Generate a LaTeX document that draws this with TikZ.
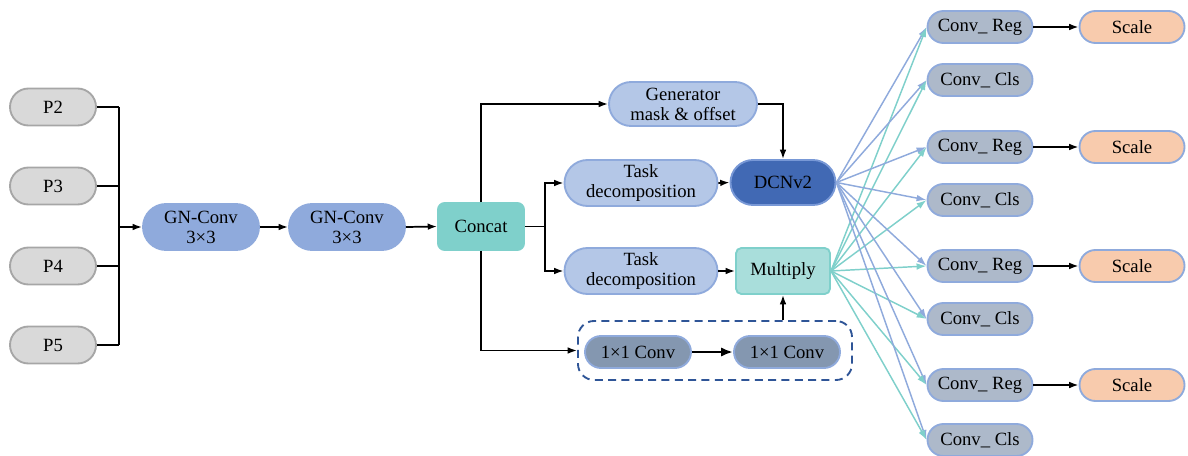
\documentclass[tikz,border=0pt]{standalone}
\usepackage{fontspec}
\setmainfont{Liberation Serif}
\usetikzlibrary{shapes.misc,arrows.meta,positioning,calc}

\definecolor{pfill}{HTML}{D9D9D9}
\definecolor{pline}{HTML}{A6A6A6}
\definecolor{gnblue}{HTML}{8FAADC}
\definecolor{teal1}{HTML}{7FD0CB}
\definecolor{lblue}{HTML}{B4C7E7}
\definecolor{dblue}{HTML}{4169B4}
\definecolor{dline}{HTML}{7898D6}
\definecolor{mulfill}{HTML}{A9DEDB}
\definecolor{slate}{HTML}{8497B0}
\definecolor{convfill}{HTML}{ADB9CA}
\definecolor{peach}{HTML}{F8CBAD}
\definecolor{navy}{HTML}{2F5597}

\tikzset{
  base/.style={font=\rmfamily\fontsize{14}{15}\selectfont, align=center, inner sep=0pt, line width=1.4pt},
  pill/.style={base, rounded rectangle},
  pnode/.style={pill, fill=pfill, draw=pline, minimum width=86*0.75pt, minimum height=37*0.75pt},
  gnnode/.style={pill, fill=gnblue, draw=gnblue, minimum width=116*0.75pt, minimum height=46*0.75pt},
  catnode/.style={base, rounded corners=5pt, fill=teal1, draw=teal1, minimum width=86*0.75pt, minimum height=47*0.75pt},
  tasknode/.style={pill, fill=lblue, draw=gnblue, minimum width=153*0.75pt, minimum height=46*0.75pt},
  gennode/.style={pill, fill=lblue, draw=gnblue, minimum width=148*0.75pt, minimum height=44*0.75pt},
  dcnnode/.style={pill, fill=dblue, draw=dline, minimum width=105*0.75pt, minimum height=45*0.75pt},
  mulnode/.style={base, rounded corners=4pt, fill=mulfill, draw=teal1, minimum width=94*0.75pt, minimum height=46*0.75pt},
  onenode/.style={pill, fill=slate, draw=gnblue, minimum width=106*0.75pt, minimum height=32*0.75pt},
  convnode/.style={pill, fill=convfill, draw=gnblue, minimum width=105*0.75pt, minimum height=32*0.75pt},
  scalenode/.style={pill, fill=peach, draw=gnblue, minimum width=105*0.75pt, minimum height=32*0.75pt},
  link/.style={line width=1.3pt, -{Latex[length=7pt,width=5pt]}},
  plain/.style={line width=1.3pt},
  fanb/.style={draw=gnblue, line width=1.1pt, -{Latex[length=7.5pt,width=5pt]}},
  fant/.style={draw=teal1, line width=1.1pt, -{Latex[length=7.5pt,width=5pt]}},
}

\begin{document}
\begin{tikzpicture}[x=0.75pt,y=-0.75pt]
\useasboundingbox (0,0) rectangle (1188,456);

% inputs
\node[pnode] (p2) at (53,107) {P2};
\node[pnode] (p3) at (53,186) {P3};
\node[pnode] (p4) at (53,266) {P4};
\node[pnode] (p5) at (53,345) {P5};

% stem
\node[gnnode] (gn1) at (201,227) {GN-Conv\\3×3};
\node[gnnode] (gn2) at (347,227) {GN-Conv\\3×3};
\node[catnode] (cat) at (481,226.5) {Concat};

% head branches
\node[gennode] (gen) at (683,104) {Generator\\mask \& offset};
\node[tasknode] (task1) at (641,183) {Task\\decomposition};
\node[tasknode] (task2) at (641,271) {Task\\decomposition};
\node[dcnnode] (dcn) at (783,182.5) {DCNv2};
\node[mulnode] (mul) at (783,271) {Multiply};
\node[onenode] (c11a) at (638,352) {1×1 Conv};
\node[onenode] (c11b) at (787,352) {1×1 Conv};
\node[draw=navy, line width=1.4pt, dash pattern=on 6pt off 4pt, rounded corners=12pt,
      minimum width=274*0.75pt, minimum height=59*0.75pt, inner sep=0pt] (grp) at (715,350.5) {};

% outputs
\node[convnode] (r1) at (980,27) {Conv\_ Reg};
\node[convnode] (k1) at (980,80) {Conv\_ Cls};
\node[convnode] (r2) at (980,147) {Conv\_ Reg};
\node[convnode] (k2) at (980,200) {Conv\_ Cls};
\node[convnode] (r3) at (980,266) {Conv\_ Reg};
\node[convnode] (k3) at (980,319) {Conv\_ Cls};
\node[convnode] (r4) at (980,385) {Conv\_ Reg};
\node[convnode] (k4) at (980,440) {Conv\_ Cls};
\node[scalenode] (s1) at (1132,27) {Scale};
\node[scalenode] (s2) at (1132,147) {Scale};
\node[scalenode] (s3) at (1132,266) {Scale};
\node[scalenode] (s4) at (1132,385) {Scale};

% merging the pyramid levels
\coordinate (bus) at (119,227);
\foreach \p in {p2,p3,p4,p5} \draw[plain] (\p.east) -- (\p.east -| bus);
\draw[plain] (p2.east -| bus) -- (p5.east -| bus);
\draw[link] (bus) -- (gn1.west);
\draw[link] (gn1.east) -- (gn2.west);
\draw[link] (gn2.east) -- (cat.west);

% concat fan-out
\coordinate (split) at (545,226.5);
\draw[plain] (cat.east) -- (split);
\draw[link] (split) |- (task1.west);
\draw[link] (split) |- (task2.west);
\draw[link] (cat.north) |- (gen.west);
\draw[link] (cat.south) |- (grp.west);
\draw[link] (gen.east) -| (dcn.north);
\draw[link] (task1.east) -- (dcn.west);
\draw[link] (task2.east) -- (mul.west);
\draw[line width=1.8pt, -{Latex[length=9pt,width=7pt]}] (c11a.east) -- (c11b.west);
\draw[link] (grp.north -| mul.south) -- (mul.south);

% prediction fan
\foreach \c in {r1,k1,r2,k2,r3,k3,r4,k4} {
  \draw[fanb] (dcn.east) -- (\c.west);
  \draw[fant] (mul.east) -- (\c.west);
}
\foreach \i in {1,2,3,4} \draw[link] (r\i.east) -- (s\i.west);
\end{tikzpicture}
\end{document}
